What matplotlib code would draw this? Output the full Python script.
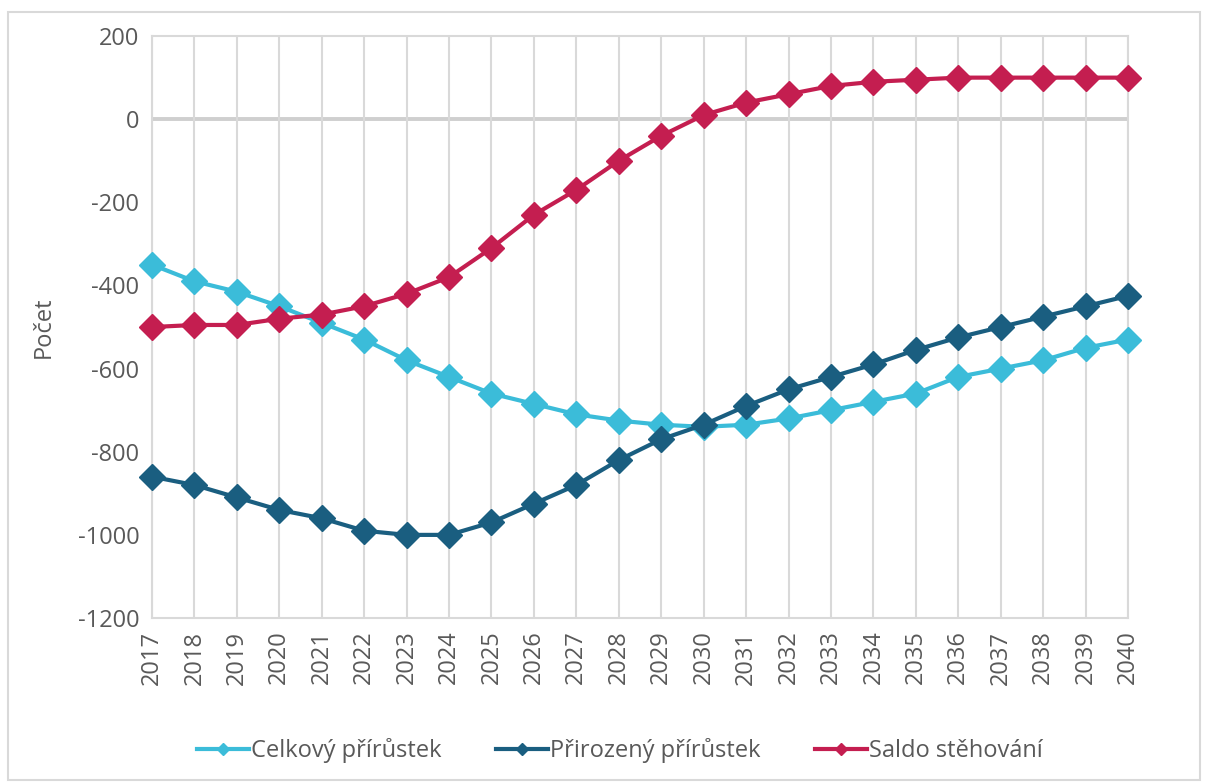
import matplotlib.pyplot as plt
from matplotlib.patches import Rectangle

plt.rcParams['font.family'] = ['Open Sans', 'DejaVu Sans']
plt.rcParams['axes.unicode_minus'] = False

years = list(range(2017, 2041))
celkovy = [-350, -390, -415, -450, -490, -530, -580, -620, -660, -685, -710, -725,
           -735, -740, -735, -720, -700, -680, -660, -620, -600, -580, -550, -530]
prirozeny = [-860, -880, -910, -940, -960, -990, -1000, -1000, -970, -925, -880, -820,
             -770, -735, -690, -650, -620, -590, -555, -525, -500, -475, -450, -425]
saldo = [-500, -495, -495, -480, -470, -450, -420, -380, -310, -230, -170, -100,
         -40, 10, 40, 60, 80, 90, 95, 100, 100, 100, 100, 100]

text_col = '#595959'
grid_col = '#d9d9d9'

fig = plt.figure(figsize=(12.08, 7.84), dpi=100)
fig.patches.append(Rectangle((8 / 1208, 4 / 784), 1 - 16 / 1208, 1 - 16 / 784,
                             transform=fig.transFigure, fill=False,
                             edgecolor=grid_col, linewidth=1.5))
ax = fig.add_axes([0.1258, 0.2117, 0.808, 0.7423])

series = [
    (celkovy, '#3bbcd9', 'Celkový přírůstek'),
    (prirozeny, '#1a5e80', 'Přirozený přírůstek'),
    (saldo, '#c41e50', 'Saldo stěhování'),
]
for vals, col, lab in series:
    ax.plot(years, vals, color=col, linewidth=3, marker='D', markersize=13,
            label=lab, clip_on=False, zorder=3)

ax.set_xlim(2017, 2040)
ax.set_ylim(-1200, 200)
ax.set_xticks(years)
ax.set_xticklabels([str(y) for y in years], rotation=90)
ax.set_yticks(range(-1200, 201, 200))
ax.grid(axis='x', color=grid_col, linewidth=1.5)
ax.axhline(0, color='#cfcfcf', linewidth=2.8, zorder=1)
for s in ax.spines.values():
    s.set_color(grid_col)
    s.set_linewidth(1.5)
ax.tick_params(length=0, labelsize=17, colors=text_col, pad=9)
ax.set_ylabel('Počet', fontsize=17, color=text_col, labelpad=16)

leg = fig.legend(loc='center', bbox_to_anchor=(0.513, 0.043), ncol=3, frameon=False,
                 fontsize=17, markerscale=0.5, handlelength=2.2, columnspacing=2.3,
                 handletextpad=0.1)
for t in leg.get_texts():
    t.set_color(text_col)

fig.savefig('out.png', dpi=100)
